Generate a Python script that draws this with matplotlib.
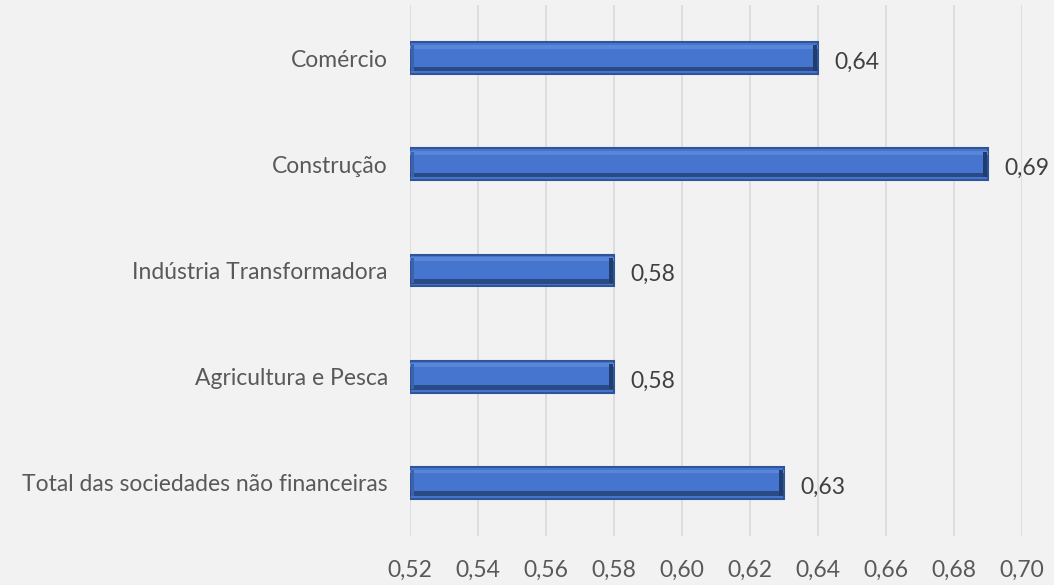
import matplotlib.pyplot as plt

categories = ['Total das sociedades não financeiras', 'Agricultura e Pesca',
              'Indústria Transformadora', 'Construção', 'Comércio']
values = [0.63, 0.58, 0.58, 0.69, 0.64]
xticks = [0.52, 0.54, 0.56, 0.58, 0.60, 0.62, 0.64, 0.66, 0.68, 0.70]

plt.rcParams['font.family'] = ['Lato', 'DejaVu Sans']

fig = plt.figure(figsize=(10.54, 5.85), dpi=100, facecolor='#f2f2f2')
ax = fig.add_axes([0.389, 0.0838, 0.5806, 0.9076], facecolor='#f2f2f2')

pos = list(range(len(categories)))
h = 0.3
base = 0.52

# main bar with dark outline
ax.barh(pos, [v - base for v in values], left=base, height=h,
        color='#4675d0', edgecolor='#2f5597', linewidth=1.5, zorder=3)
# bevel: light top strip, dark bottom strip, dark right end
ax.barh([p + h * 0.36 for p in pos], [v - base for v in values], left=base,
        height=h * 0.12, color='#5a86d8', linewidth=0, zorder=4)
ax.barh([p - h * 0.34 for p in pos], [v - base for v in values], left=base,
        height=h * 0.14, color='#2a4a85', linewidth=0, zorder=4)
ax.barh(pos, [0.0012] * len(values), left=[v - 0.0016 for v in values],
        height=h * 0.8, color='#203d70', linewidth=0, zorder=4)
ax.barh(pos, [0.0008] * len(values), left=[base + 0.0003] * len(values),
        height=h * 0.8, color='#3a62ad', linewidth=0, zorder=4)

for p, v in zip(pos, values):
    ax.text(v + 0.0048, p - 0.04, f'{v:.2f}'.replace('.', ','), va='center', ha='left',
            fontsize=16.5, color='#404040')

ax.set_xlim(0.52, 0.70)
ax.set_ylim(-0.5, len(categories) - 0.5)
ax.set_xticks(xticks)
ax.set_xticklabels([f'{t:.2f}'.replace('.', ',') for t in xticks])
ax.set_yticks(pos)
ax.set_yticklabels(categories)
ax.tick_params(axis='x', length=0, pad=17, labelsize=16.5, labelcolor='#595959')
ax.tick_params(axis='y', length=0, pad=16, labelsize=16.5, labelcolor='#595959')
ax.grid(axis='x', color='#d9d9d9', linewidth=1.2, zorder=0)
for s in ax.spines.values():
    s.set_visible(False)

fig.savefig('out.png', dpi=100, facecolor='#f2f2f2')
